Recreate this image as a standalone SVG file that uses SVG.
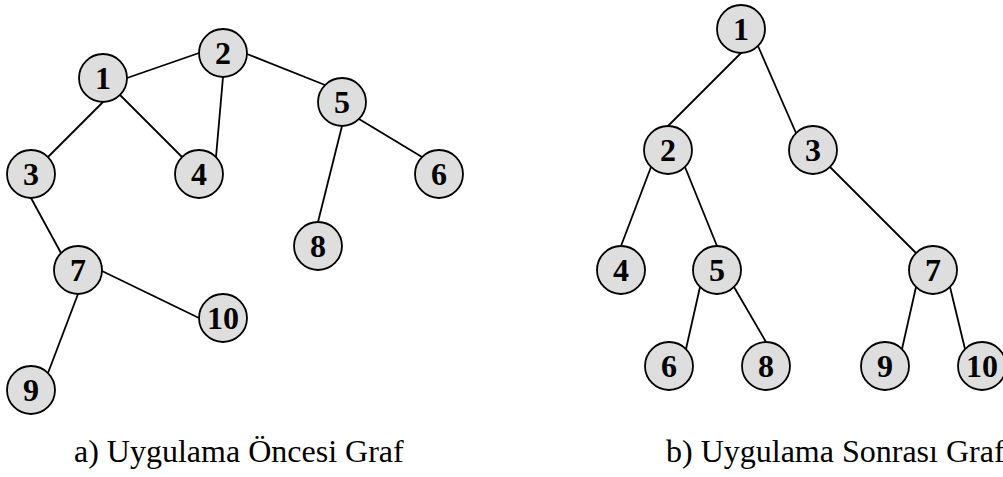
<svg xmlns="http://www.w3.org/2000/svg" width="1003" height="477" viewBox="0 0 1003 477">
  <style>
    .edge { stroke: #000; stroke-width: 1.8; fill: none; }
    .node circle { fill: #dedede; stroke: #000; stroke-width: 1.8; }
    .node text { font-family: "Liberation Serif", "Times New Roman", serif; font-weight: bold; font-size: 32px; text-anchor: middle; fill: #000; }
    .caption { font-family: "Liberation Serif", "Times New Roman", serif; font-size: 32px; fill: #000; }
  </style>
  <rect width="1003" height="477" fill="#fff"/>

  <!-- edges of graph a -->
  <g id="edges-a">
    <line class="edge" x1="127" y1="78" x2="199" y2="53"/>
    <line class="edge" x1="103" y1="102" x2="48" y2="157"/>
    <line class="edge" x1="120" y1="95" x2="182" y2="157"/>
    <line class="edge" x1="223" y1="77" x2="216" y2="157"/>
    <line class="edge" x1="247" y1="54" x2="325" y2="85"/>
    <line class="edge" x1="359" y1="119" x2="422" y2="157"/>
    <line class="edge" x1="342" y1="126" x2="318" y2="222"/>
    <line class="edge" x1="31" y1="198" x2="61" y2="253"/>
    <line class="edge" x1="102" y1="271" x2="199" y2="318"/>
    <line class="edge" x1="78" y1="294" x2="48" y2="373"/>
  </g>

  <!-- edges of graph b -->
  <g id="edges-b">
    <line class="edge" x1="741" y1="53" x2="668" y2="126"/>
    <line class="edge" x1="758" y1="46" x2="796" y2="133"/>
    <line class="edge" x1="651" y1="167" x2="621" y2="246"/>
    <line class="edge" x1="685" y1="167" x2="717" y2="246"/>
    <line class="edge" x1="830" y1="167" x2="916" y2="253"/>
    <line class="edge" x1="700" y1="287" x2="686" y2="349"/>
    <line class="edge" x1="734" y1="287" x2="766" y2="342"/>
    <line class="edge" x1="916" y1="287" x2="902" y2="349"/>
    <line class="edge" x1="950" y1="287" x2="965" y2="349"/>
  </g>

  <!-- graph a nodes -->
  <g id="a1" class="node"><circle cx="103" cy="78" r="24"/><text x="103" y="89">1</text></g>
  <g id="a2" class="node"><circle cx="223" cy="53" r="24"/><text x="223" y="64">2</text></g>
  <g id="a3" class="node"><circle cx="31" cy="174" r="24"/><text x="31" y="185">3</text></g>
  <g id="a4" class="node"><circle cx="199" cy="174" r="24"/><text x="199" y="185">4</text></g>
  <g id="a5" class="node"><circle cx="342" cy="102" r="24"/><text x="342" y="113">5</text></g>
  <g id="a6" class="node"><circle cx="439" cy="174" r="24"/><text x="439" y="185">6</text></g>
  <g id="a7" class="node"><circle cx="78" cy="270" r="24"/><text x="78" y="281">7</text></g>
  <g id="a8" class="node"><circle cx="318" cy="246" r="24"/><text x="318" y="257">8</text></g>
  <g id="a9" class="node"><circle cx="31" cy="390" r="24"/><text x="31" y="401">9</text></g>
  <g id="a10" class="node"><circle cx="223" cy="318" r="24"/><text x="223" y="329">10</text></g>

  <!-- graph b nodes -->
  <g id="b1" class="node"><circle cx="741" cy="29" r="24"/><text x="741" y="40">1</text></g>
  <g id="b2" class="node"><circle cx="668" cy="150" r="24"/><text x="668" y="161">2</text></g>
  <g id="b3" class="node"><circle cx="813" cy="150" r="24"/><text x="813" y="161">3</text></g>
  <g id="b4" class="node"><circle cx="621" cy="270" r="24"/><text x="621" y="281">4</text></g>
  <g id="b5" class="node"><circle cx="717" cy="270" r="24"/><text x="717" y="281">5</text></g>
  <g id="b7" class="node"><circle cx="933" cy="270" r="24"/><text x="933" y="281">7</text></g>
  <g id="b6" class="node"><circle cx="669" cy="366" r="24"/><text x="669" y="377">6</text></g>
  <g id="b8" class="node"><circle cx="766" cy="366" r="24"/><text x="766" y="377">8</text></g>
  <g id="b9" class="node"><circle cx="885" cy="366" r="24"/><text x="885" y="377">9</text></g>
  <g id="b10" class="node"><circle cx="982" cy="366" r="24"/><text x="982" y="377">10</text></g>

  <!-- captions -->
  <text class="caption" x="74" y="462">a) Uygulama Öncesi Graf</text>
  <text class="caption" x="666" y="462">b) Uygulama Sonrası Graf</text>
</svg>
